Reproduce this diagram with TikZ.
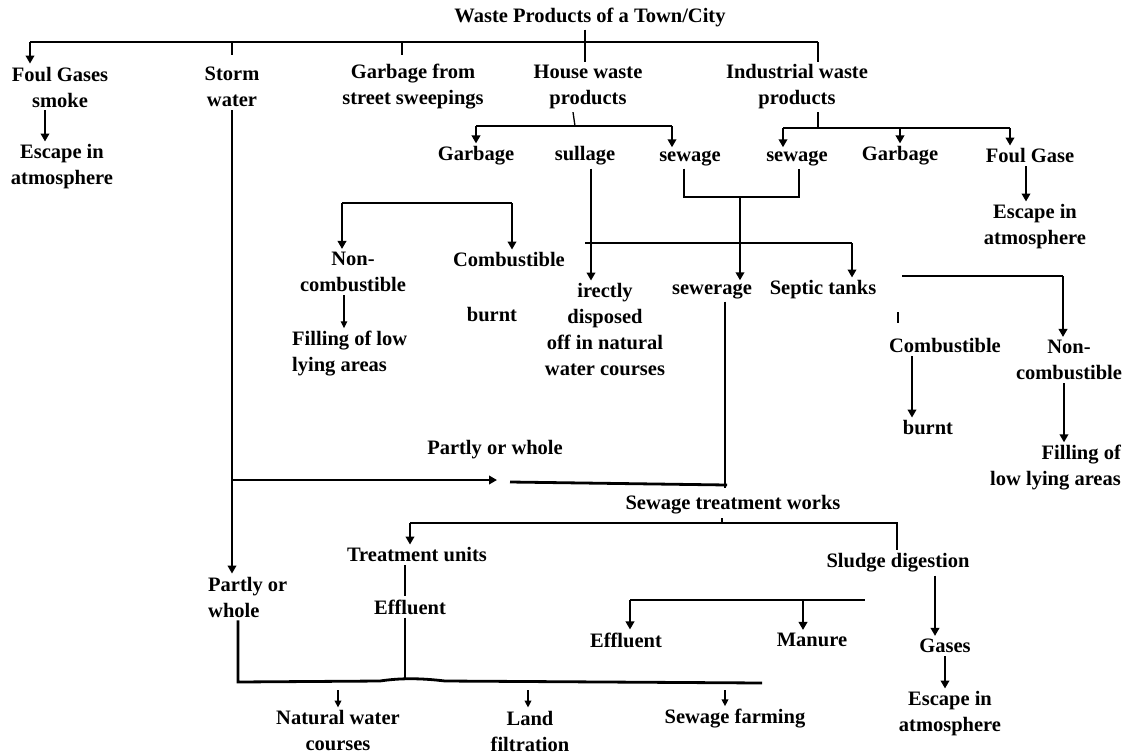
\documentclass[tikz,border=0pt]{standalone}
\usepackage{fontspec}
\setmainfont{Liberation Serif}
\usetikzlibrary{arrows.meta}
\begin{document}
\begin{tikzpicture}[x=1pt,y=-1pt,
  lbl/.style={font=\bfseries\fontsize{20.5}{26}\selectfont, align=center, inner sep=3pt},
  ln/.style={line width=2.8pt},
  thn/.style={line width=1.3pt},
  arr/.style={line width=2.8pt,-{Triangle[length=8pt,width=8.5pt]}},
  tarr/.style={line width=1.8pt,-{Triangle[length=7pt,width=6.5pt]}}]
\useasboundingbox (0,0) rectangle (1132,755);

% ---- level 0 ----
\node[lbl] (title) at (590,17) {Waste Products of a Town/City};

% ---- level 1 ----
\node[lbl] (foul)  at (60,87)  {Foul Gases\\smoke};
\node[lbl] (storm) at (232,87) {Storm\\water};
\node[lbl] (gstreet) at (413,87) {Garbage from\\street sweepings};
\node[lbl] (house) at (588,87) {House waste\\products};
\node[lbl] (indus) at (797,87) {Industrial waste\\products};

\node[lbl] (esc1) at (62,167) {Escape in\\atmosphere};

% ---- house / industrial children ----
\node[lbl] (hgarb) at (476,156) {Garbage};
\node[lbl] (hsull) at (585,156) {sullage};
\node[lbl] (hsew)  at (690,158) {sewage};
\node[lbl] (isew)  at (797,158) {sewage};
\node[lbl] (igarb) at (900,156) {Garbage};
\node[lbl] (igas)  at (1030,156) {Foul Gase};
\node[lbl] (esc2)  at (1035,227) {Escape in\\atmosphere};

% ---- middle ----
\node[lbl] (noncomb1) at (353,272) {Non-\\combustible};
\node[lbl] (comb1)    at (509,260) {Combustible};
\node[lbl] (burnt1)   at (492,315) {burnt};
\node[lbl, anchor=west, align=left] (fill1) at (289,354) {Filling of low\\lying areas};
\node[lbl] (direct)   at (605,330) {irectly\\disposed\\off in natural\\water courses};
\node[lbl] (sewer)    at (712,291) {sewerage};
\node[lbl] (septic)   at (823,290) {Septic tanks};
\node[lbl] (comb2)    at (945,346) {Combustible};
\node[lbl] (noncomb2) at (1069,360) {Non-\\combustible};
\node[lbl] (burnt2)   at (928,428) {burnt};
\node[lbl, anchor=east, align=right] (fill2) at (1124,468) {Filling of\\low lying areas};

% ---- lower ----
\node[lbl] (partly1) at (495,450) {Partly or whole};
\node[lbl] (stw)     at (733,505) {Sewage treatment works};
\node[lbl] (tu)      at (417,555) {Treatment units};
\node[lbl] (sludge)  at (898,563) {Sludge digestion};
\node[lbl, anchor=west, align=left] (partly2) at (205,597) {Partly or\\whole};
\node[lbl] (eff1)    at (410,607) {Effluent};
\node[lbl] (eff2)    at (626,640) {Effluent};
\node[lbl] (manure)  at (812,640) {Manure};
\node[lbl] (gases)   at (945,646) {Gases};
\node[lbl] (esc3)    at (950,714) {Escape in\\atmosphere};
\node[lbl] (natural) at (338,731) {Natural water\\courses};
\node[lbl] (land)    at (530,731) {Land\\filtration};
\node[lbl] (sfarm)   at (735,719) {Sewage farming};

% ================= connectors =================
% top bracket
\coordinate (tA) at (30,42);
\coordinate (tB) at (818,42);
\coordinate (tV) at (585,42);
\draw[ln] (tA) -- (tB);
\draw[ln] (tV |- title.south) -- (tV |- house.north);
\draw[arr] (tA) -- (tA |- foul.north);
\draw[ln] (storm.north |- tA) -- ++(0,13);
\coordinate (tG) at (402,42);
\draw[ln] (tG) -- ++(0,13);
\draw[ln] (tB) -- (tB |- indus.north);

% foul gases -> escape
\coordinate (fx) at (45,0);
\draw[arr] (fx |- foul.south) -- (fx |- esc1.north);

% house waste branch
\coordinate (hL) at (476,126);
\coordinate (hR) at (672,126);
\draw[thn] ([xshift=-15pt]house.south) -- ([xshift=-13pt]house.south |- hL);
\draw[ln] (hL) -- (hR);
\draw[arr] (hL) -- (hL |- hgarb.north);
\draw[arr] (hR) -- (hR |- hsew.north);

% industrial branch
\coordinate (iL) at (783,128);
\coordinate (iM) at (818,128);
\coordinate (iG) at (900,128);
\coordinate (iR) at (1010,128);
\draw[ln] (iM |- indus.south) -- (iM);
\draw[ln] (iL) -- (iR);
\draw[arr] (iL) -- (iL |- isew.north);
\draw[arr] (iG) -- (iG |- igarb.north);
\draw[arr] (iR) -- (iR |- igas.north);
\coordinate (gx) at (1026,0);
\draw[arr] (gx |- igas.south) -- (gx |- esc2.north);

% sewage join -> sewerage
\coordinate (sjL) at (684,197);
\coordinate (sjM) at (740,197);
\coordinate (sjR) at (799,197);
\draw[ln] (sjL |- hsew.south) -- (sjL) -- (sjR) -- (sjR |- isew.south);
\draw[arr] (sjM) -- (sjM |- sewer.north);

% sullage
\coordinate (su) at (591,0);
\coordinate (shL) at (585,243);
\coordinate (shR) at (852,243);
\draw[arr] (su |- hsull.south) -- (su |- direct.north);
\draw[ln] (shL) -- (shR);
\draw[arr] (shR) -- (shR |- septic.north);

% garbage bracket (house)
\coordinate (gL) at (342,203);
\coordinate (gR) at (512,203);
\draw[ln] (gL) -- (gR);
\draw[arr] (gL) -- (gL |- noncomb1.north);
\draw[arr] (gR) -- (gR |- comb1.north);
\coordinate (nx) at (344,0);
\draw[tarr, line width=1.3pt] (nx |- noncomb1.south) -- (nx |- fill1.north);

% septic tanks bracket
\coordinate (sbL) at (902,276);
\coordinate (sbR) at (1063,276);
\draw[ln] (sbL) -- (sbR);
\draw[arr] (sbR) -- (sbR |- noncomb2.north);
\coordinate (tk) at (898,312);
\draw[ln] (tk) -- ++(0,11);
\coordinate (bx) at (912,0);
\draw[arr] (bx |- comb2.south) -- (bx |- burnt2.north);
\coordinate (fx2) at (1064,0);
\draw[arr] (fx2 |- noncomb2.south) -- (fx2 |- fill2.north);

% storm water and partly or whole
\coordinate (pA) at (232,480);
\coordinate (pB) at (497,480);
\coordinate (pC) at (510,482);
\coordinate (pD) at (727,485);
\draw[arr] (storm.south) -- (storm.south |- partly2.north);
\draw[arr] (pA) -- (pB);
\draw[ln] (pC) -- (pD);
\coordinate (sv) at (725,488);
\draw[ln] (sewer.south -| sv) -- (sv);

% sewage treatment works bracket
\coordinate (bL) at (410,523);
\coordinate (bM) at (722,523);
\coordinate (bR) at (897,523);
\draw[thn] (bM) -- (bM |- stw.south);
\draw[ln] (bL) -- (bR) -- (bR |- sludge.north);
\draw[arr] (bL) -- (bL |- tu.north);

% treatment units -> effluent -> bottom line
\coordinate (ex) at (405,0);
\draw[ln] (ex |- tu.south) -- (ex |- eff1.north);
\coordinate (lL) at (238,682);
\coordinate (lE) at (405,680);
\coordinate (lR) at (762,683);
\draw[ln] (ex |- eff1.south) -- (lE);
\draw[ln] (lL |- partly2.south) -- (lL) -- (380,681) .. controls (400,678) and (420,678) .. (445,681) -- (lR);
\coordinate (n1) at (338,690);
\coordinate (n2) at (528,690);
\coordinate (n3) at (725,690);
\draw[tarr] (n1) -- (n1 |- natural.north);
\draw[tarr] (n2) -- (n2 |- land.north);
\draw[tarr] (n3) -- (n3 |- sfarm.north);

% sludge digestion
\coordinate (dL) at (630,600);
\coordinate (dM) at (803,600);
\coordinate (dR) at (865,600);
\draw[ln] (dL) -- (dR);
\draw[arr] (dL) -- (dL |- eff2.north);
\draw[arr] (dM) -- (dM |- manure.north);
\coordinate (gx2) at (935,0);
\draw[arr] (gx2 |- sludge.south) -- (gx2 |- gases.north);
\coordinate (gx3) at (945,0);
\draw[arr] (gx3 |- gases.south) -- (gx3 |- esc3.north);
\end{tikzpicture}
\end{document}
